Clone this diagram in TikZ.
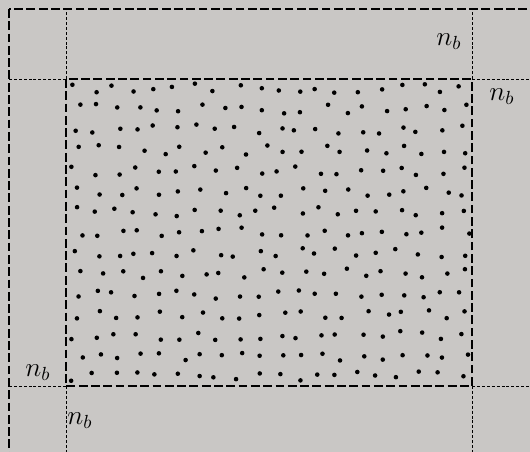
\documentclass[tikz,border=0pt]{standalone}
\usepackage{amsmath}
\usepackage{amssymb}
\usepackage{tikz}
\usetikzlibrary{positioning}

\definecolor{bggray}{RGB}{201,199,197}
\tikzset{
  border/.style={line width=1.5pt, dash pattern=on 5pt off 2pt},
  guide/.style={line width=0.5pt, dash pattern=on 1.7pt off 1.1pt},
  lbl/.style={font=\Large, scale=1.08, inner sep=0pt},
  pt/.style={fill=black},
}

\begin{document}
\begin{tikzpicture}[x=0.02cm,y=-0.02cm]
% canvas
\useasboundingbox (0,0) rectangle (530,452);
\clip (0,0) rectangle (530,452);
\fill[bggray] (0,0) rectangle (530,452);
% corners of the inner box
\coordinate (tl) at (66,79);
\coordinate (tr) at (472,79);
\coordinate (bl) at (66,386);
\coordinate (br) at (472,386);
% ends of the guides
\coordinate (tlu) at (66,9);
\coordinate (tll) at (9,79);
\coordinate (tru) at (472,9);
\coordinate (trr) at (535,79);
\coordinate (bll) at (9,386);
\coordinate (bld) at (66,460);
\coordinate (brr) at (535,386);
\coordinate (brd) at (472,460);
% guides
\draw[guide] (tl) -- (tlu) (tl) -- (tll);
\draw[guide] (tr) -- (tru) (tr) -- (trr);
\draw[guide] (bl) -- (bll) (bl) -- (bld);
\draw[guide] (br) -- (brr) (br) -- (brd);
% points (jittered, staggered rows)
\pgfmathsetseed{4123}
\foreach \j in {0,...,14}{
  \foreach \i in {0,...,19}{
    \pgfmathsetmacro\px{75+20.3*\i+5.1*mod(\j,2)+4.8*rand}
    \pgfmathsetmacro\py{88+20.6*\j+4.8*rand}
    \fill[pt] (\px,\py) circle (1.3pt);
  }
}
% borders
\draw[border] (tl) rectangle (br);
\draw[border] (9,9) rectangle (545,470);
% labels
\node[lbl] (nbtop) at (449,42) {$n_b$};
\node[lbl] (nbright) at (502,97) {$n_b$};
\node[lbl] (nbleft) at (38,373) {$n_b$};
\node[lbl] (nbbottom) at (80,421) {$n_b$};
\end{tikzpicture}
\end{document}
